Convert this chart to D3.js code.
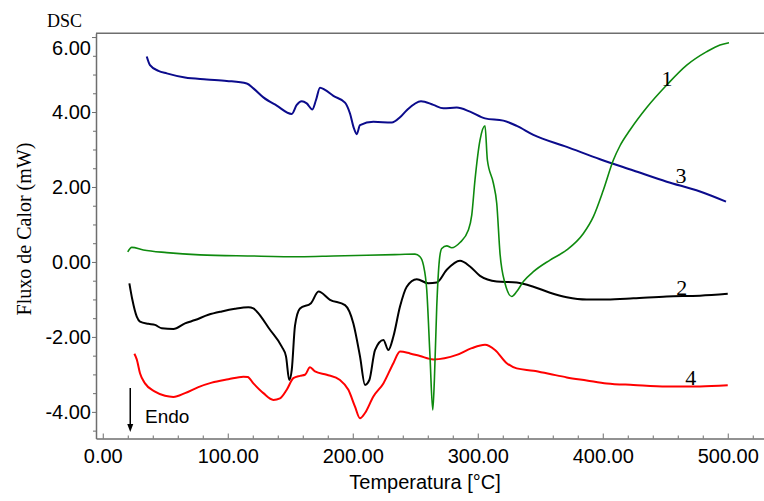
<!DOCTYPE html>
<html>
<head>
<meta charset="utf-8">
<script src="https://cdn.jsdelivr.net/npm/d3@7"></script>
<style>
  html, body { margin: 0; padding: 0; background: #fff; }
  svg { display: block; }
</style>
</head>
<body>
<svg id="chart" width="764" height="501"></svg>
<script>
// DSC thermograms: heat flow (mW) versus temperature (°C), curves 1-4
const curve1 = [[20,0.27],[23.2,0.39],[32.5,0.32],[51.2,0.25],[77.8,0.19],[117.8,0.16],[157.8,0.14],[184.5,0.16],[211.2,0.18],[237.8,0.20],[249.8,0.21],[253.8,0.14],[256.5,-0.08],[259.2,-0.75],[261.8,-2.52],[264,-3.95],[265.3,-3.15],[267.2,-1.19],[269.3,0.05],[271.2,0.36],[275.2,0.43],[279.2,0.38],[285.8,0.52],[292.5,0.85],[295.2,1.25],[297.8,2.19],[301.8,3.25],[305.8,3.63],[307.7,2.72],[312.5,2.10],[315.2,1.56],[317.8,0.23],[321.8,-0.57],[327.2,-0.92],[331.2,-0.79],[336.5,-0.52],[344.5,-0.26],[357.8,0.05],[371.2,0.32],[384.5,0.76],[392.5,1.21],[400.5,1.92],[408.5,2.72],[413.8,3.10],[421.8,3.52],[435.2,4.12],[451.2,4.72],[467.2,5.25],[483.2,5.61],[493.8,5.79],[501,5.85]];

const curve2 = [[21.3,-0.57],[23.7,-1.01],[27.2,-1.46],[29.8,-1.59],[36.5,-1.65],[41.8,-1.68],[47.2,-1.77],[56.5,-1.79],[65.8,-1.64],[73.8,-1.55],[84.5,-1.41],[95.2,-1.32],[105.8,-1.25],[116.5,-1.21],[120.5,-1.24],[123.2,-1.32],[133.8,-1.81],[143.2,-2.26],[146.6,-2.52],[149.2,-3.15],[151.2,-2.88],[153.8,-1.70],[157.8,-1.24],[166.6,-1.10],[172.6,-0.79],[181.8,-1.01],[193.8,-1.15],[200.5,-1.64],[205.8,-2.52],[209.8,-3.28],[213.3,-3.15],[217.8,-2.35],[224.5,-2.08],[228.5,-2.35],[232.5,-1.99],[237.8,-1.19],[243.2,-0.66],[251.2,-0.46],[260.5,-0.57],[267.2,-0.55],[275.2,-0.21],[285.8,0.03],[293.8,-0.12],[301.8,-0.37],[315.2,-0.52],[331.2,-0.55],[344.5,-0.66],[357.8,-0.82],[371.2,-0.94],[387.2,-1.00],[403.2,-1.00],[424.5,-0.97],[451.2,-0.92],[477.8,-0.90],[500,-0.85]];

const curve3 = [[35.2,5.48],[37.8,5.25],[44.5,5.10],[51.2,5.03],[65.8,4.92],[83.2,4.87],[99.2,4.83],[115.2,4.76],[120.5,4.63],[128.5,4.39],[139.2,4.17],[151.2,3.95],[155.2,4.19],[159.2,4.29],[163.2,4.23],[167.7,4.07],[170.6,4.32],[173.8,4.65],[177.8,4.59],[184.5,4.43],[193.8,4.25],[197.8,3.96],[201,3.56],[203.2,3.41],[205.8,3.65],[216.5,3.74],[231.2,3.72],[237.8,3.86],[243.2,4.05],[254.6,4.29],[264.5,4.19],[272.5,4.10],[283.2,4.12],[293.8,4.01],[305.8,3.83],[320.5,3.77],[331.2,3.63],[344.5,3.39],[371.2,3.07],[397.8,2.74],[424.5,2.44],[451.2,2.14],[477.8,1.88],[498.6,1.61]];

const curve4 = [[25.3,-2.45],[27.2,-2.60],[29.8,-2.97],[33.8,-3.24],[41.8,-3.46],[49.8,-3.57],[56.5,-3.60],[65.8,-3.50],[76.5,-3.34],[87.2,-3.22],[100.5,-3.13],[112.5,-3.06],[116,-3.07],[120.5,-3.24],[128.5,-3.50],[136.5,-3.68],[141.8,-3.64],[147.2,-3.41],[152.5,-3.10],[157.8,-3.04],[161.8,-3.01],[165.8,-2.81],[169.8,-2.92],[179.2,-3.01],[189.8,-3.15],[196.5,-3.41],[201.8,-3.86],[205.8,-4.17],[209.8,-4.03],[216.5,-3.59],[224.5,-3.24],[232.5,-2.70],[237.8,-2.39],[245.8,-2.44],[253.8,-2.51],[264.5,-2.60],[283.2,-2.48],[295.2,-2.30],[305.8,-2.21],[313.8,-2.35],[323.2,-2.70],[331.2,-2.84],[344.5,-2.90],[357.8,-2.99],[371.2,-3.08],[387.2,-3.16],[403.2,-3.24],[424.5,-3.28],[451.2,-3.32],[477.8,-3.32],[500,-3.29]];

// Curve numbers and the temperature / heat-flow anchor (text baseline) where each is written
const curveLabels = ["1", "2", "3", "4"];
const labelAnchors = [[451.4, 4.69], [463.2, -0.88], [462.6, 2.10], [470.4, -3.28]];

const xMajorTicks = [0, 100, 200, 300, 400, 500];
const yMajorTicks = [-4, -2, 0, 2, 4, 6];

const svg = d3.select("#chart");
const frameColor = "#6e6e6e";
const plotLeft = 96, plotRight = 764, plotTop = 33.3, plotBottom = 438.5;

const x = d3.scaleLinear().domain([-5.4, 529]).range([plotLeft, plotRight]);
const y = d3.scaleLinear().domain([-4.71, 6.10]).range([plotBottom, plotTop]);

const fmt = d => d.toFixed(2);

// Minor ticks (every 20 °C, every 0.5 mW)
const xMinor = d3.range(0, 521, 20).filter(v => v % 100 !== 0);
const yMinor = d3.range(-4.5, 6.01, 0.5).filter(v => Math.abs(v % 2) > 1e-9);

svg.append("g")
  .attr("transform", `translate(0,${plotBottom})`)
  .call(d3.axisBottom(x).tickValues(xMinor).tickSize(-3).tickFormat(""))
  .call(g => g.select(".domain").remove())
  .call(g => g.selectAll("line").attr("stroke", frameColor));

svg.append("g")
  .attr("transform", `translate(${plotLeft},0)`)
  .call(d3.axisLeft(y).tickValues(yMinor).tickSize(3).tickFormat(""))
  .call(g => g.select(".domain").remove())
  .call(g => g.selectAll("line").attr("stroke", frameColor));

// Major x axis
const xAxis = svg.append("g")
  .attr("transform", `translate(0,${plotBottom})`)
  .call(d3.axisBottom(x).tickValues(xMajorTicks).tickSize(-5).tickSizeOuter(0)
        .tickPadding(10).tickFormat(fmt));
xAxis.select(".domain").attr("stroke", frameColor).attr("stroke-width", 1.5);
xAxis.selectAll("line").attr("stroke", frameColor);
xAxis.selectAll("text")
  .attr("font-family", "'Liberation Sans', Arial, sans-serif")
  .attr("font-size", 20).attr("fill", "#000");

// Major y axis
const yAxis = svg.append("g")
  .attr("transform", `translate(${plotLeft},0)`)
  .call(d3.axisLeft(y).tickValues(yMajorTicks).tickSize(4).tickSizeOuter(0)
        .tickPadding(1).tickFormat(fmt));
yAxis.select(".domain").attr("stroke", frameColor).attr("stroke-width", 1.5);
yAxis.selectAll("line").attr("stroke", frameColor);
yAxis.selectAll("text")
  .attr("font-family", "'Liberation Sans', Arial, sans-serif")
  .attr("font-size", 20).attr("fill", "#000");
// keep the top label clear of the frame
yAxis.selectAll(".tick").filter(d => d === 6).select("text").attr("dy", "0.85em");

// Top frame line
svg.append("line")
  .attr("x1", plotLeft).attr("x2", plotRight + 2)
  .attr("y1", plotTop).attr("y2", plotTop)
  .attr("stroke", frameColor).attr("stroke-width", 1.5);

// Curves
const line = d3.line()
  .x(d => x(d[0])).y(d => y(d[1]))
  .curve(d3.curveMonotoneX);

const series = [
  { data: curve3, color: "#0b0b8c", width: 2 },
  { data: curve2, color: "#000000", width: 2 },
  { data: curve4, color: "#ff0000", width: 2 },
  { data: curve1, color: "#0e8a0e", width: 1.6 }
];
svg.append("g").selectAll("path")
  .data(series).join("path")
  .attr("d", d => line(d.data))
  .attr("fill", "none")
  .attr("stroke", d => d.color)
  .attr("stroke-width", d => d.width)
  .attr("stroke-linejoin", "round");

// Curve numbers
svg.append("g").selectAll("text")
  .data(curveLabels).join("text")
  .attr("x", (d, i) => x(labelAnchors[i][0]))
  .attr("y", (d, i) => y(labelAnchors[i][1]))
  .attr("text-anchor", "middle")
  .attr("font-family", "'Liberation Serif', 'Times New Roman', serif")
  .attr("font-size", 22)
  .attr("fill", "#000")
  .text(d => d);

// Titles
svg.append("text")
  .attr("x", 47).attr("y", 26.5)
  .attr("font-family", "'Liberation Serif', 'Times New Roman', serif")
  .attr("font-size", 18)
  .text("DSC");

svg.append("text")
  .attr("transform", "translate(31,229) rotate(-90)")
  .attr("text-anchor", "middle")
  .attr("font-family", "'Liberation Serif', 'Times New Roman', serif")
  .attr("font-size", 20)
  .text("Fluxo de Calor (mW)");

svg.append("text")
  .attr("x", (plotLeft + plotRight) / 2 - 5).attr("y", 489)
  .attr("text-anchor", "middle")
  .attr("font-family", "'Liberation Sans', Arial, sans-serif")
  .attr("font-size", 20)
  .text("Temperatura [°C]");

// Endothermic direction marker
const endoX = x(22);
svg.append("line")
  .attr("x1", endoX).attr("x2", endoX)
  .attr("y1", 388).attr("y2", 425)
  .attr("stroke", "#000").attr("stroke-width", 1.5);
svg.append("path")
  .attr("d", `M${endoX - 3},${424} L${endoX + 3},${424} L${endoX},${432} Z`)
  .attr("fill", "#000");
svg.append("text")
  .attr("x", 145).attr("y", 423)
  .attr("font-family", "'Liberation Sans', Arial, sans-serif")
  .attr("font-size", 19)
  .text("Endo");
</script>
</body>
</html>
